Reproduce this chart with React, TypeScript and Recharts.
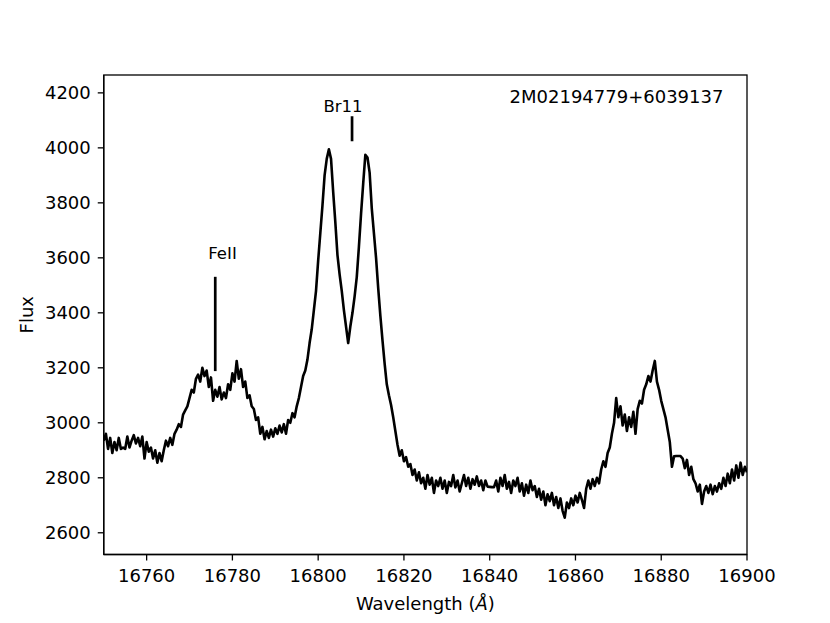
import React from 'react';
import { LineChart, Line, XAxis, YAxis, ReferenceLine, ReferenceDot } from 'recharts';

const FONT = '"DejaVu Sans", "Liberation Sans", sans-serif';

// Wavelength grid (Angstrom): start and sampling step
const WAVE_START = 16750;
const WAVE_STEP = 0.5;

// Flux values, one per 0.5 A from 16750 to 16900
const FLUX = [
  2935, 2960, 2905, 2945, 2890, 2930, 2900, 2945, 2905, 2910,
  2905, 2950, 2910, 2935, 2955, 2925, 2945, 2915, 2950, 2870,
  2930, 2895, 2910, 2870, 2900, 2855, 2890, 2860, 2900, 2935,
  2915, 2945, 2920, 2960, 2975, 2995, 2985, 3030, 3045, 3060,
  3090, 3120, 3110, 3160, 3175, 3150, 3200, 3170, 3190, 3130,
  3165, 3080, 3120, 3095, 3130, 3085, 3110, 3090, 3140, 3120,
  3180, 3150, 3225, 3160, 3195, 3130, 3150, 3090, 3100, 3060,
  3050, 3010, 3020, 2960, 2985, 2940, 2970, 2945, 2975, 2950,
  2980, 2960, 2990, 2965, 2995, 2960, 3010, 3000, 3035, 3020,
  3060, 3090, 3130, 3170, 3190, 3230, 3290, 3340, 3410, 3480,
  3590, 3690, 3790, 3900, 3960, 3995, 3960, 3840, 3730, 3610,
  3540, 3480, 3410, 3350, 3290, 3350, 3400, 3460, 3530, 3640,
  3760, 3870, 3975, 3965, 3910, 3780, 3690, 3600, 3490, 3390,
  3300, 3215, 3140, 3100, 3065, 3020, 2970, 2920, 2880, 2900,
  2860, 2875, 2840, 2850, 2810, 2830, 2790, 2820, 2780, 2800,
  2760, 2810, 2775, 2800, 2745, 2790, 2770, 2800, 2760, 2790,
  2745, 2785, 2770, 2810, 2765, 2790, 2750, 2780, 2810, 2770,
  2800, 2760, 2795, 2775, 2805, 2770, 2790, 2755, 2790, 2768,
  2767, 2766, 2766, 2790, 2750, 2800, 2770, 2810, 2760, 2785,
  2745, 2790, 2770, 2800, 2750, 2780, 2735, 2775, 2745, 2790,
  2755, 2770, 2730, 2760, 2720, 2750, 2700, 2740, 2715, 2745,
  2700, 2730, 2690, 2725, 2680, 2655, 2710, 2690, 2725, 2700,
  2735, 2710, 2745, 2720, 2690, 2760, 2790, 2760, 2795, 2770,
  2800, 2780, 2830, 2860, 2840, 2890, 2910, 2960, 3000, 3090,
  3020, 3060, 2990, 3030, 2970, 3020, 2985, 3040, 2960, 3050,
  3080, 3070, 3120, 3140, 3170, 3150, 3190, 3225, 3150, 3120,
  3080, 3050, 3020, 2975, 2930, 2840, 2878, 2879, 2879, 2879,
  2870, 2835, 2865, 2810, 2840, 2795, 2780, 2750, 2775, 2705,
  2750, 2770, 2745, 2775, 2740, 2770, 2750, 2780, 2760, 2800,
  2770, 2815, 2780, 2830, 2790, 2845, 2800, 2855, 2810, 2840,
  2820,
];

const X_TICKS = [16760, 16780, 16800, 16820, 16840, 16860, 16880, 16900];
const Y_TICKS = [2600, 2800, 3000, 3200, 3400, 3600, 3800, 4000, 4200];
const X_DOMAIN: [number, number] = [16750, 16900];
const Y_DOMAIN: [number, number] = [2521, 4265];

// Line identifications: marker position and label position (data units)
const LINE_IDS = [
  { name: 'FeII', x: 16776, y1: 3188, y2: 3531, labelX: 16777.7, labelY: 3595 },
  { name: 'Br11', x: 16807.9, y1: 4024, y2: 4115, labelX: 16805.8, labelY: 4130 },
];
const STAR_NAME = '2M02194779+6039137';
const STAR_POS = { x: 16894.5, y: 4164 };

const X_LABEL = 'Wavelength';
const Y_LABEL = 'Flux';

const data = FLUX.map((f, i) => ({ wave: WAVE_START + i * WAVE_STEP, flux: f }));

// Plot-area geometry (matches the chart margins + axis sizes below)
const W = 830;
const H = 623;
const M = { top: 75, right: 83, bottom: 8.5, left: 23.75 };
const Y_AXIS_W = 80;
const X_AXIS_H = 60;
const PLOT = {
  x: M.left + Y_AXIS_W,
  y: M.top,
  w: W - M.left - Y_AXIS_W - M.right,
  h: H - M.top - M.bottom - X_AXIS_H,
};

const axisStroke = { stroke: '#000', strokeWidth: 1.3 };
const tickStyle = { fill: '#000', fontSize: 18, fontFamily: FONT };

export default function App() {
  return (
    <div style={{ position: 'absolute', left: 0, top: 0, width: W, height: H, background: '#fff' }}>
      <LineChart width={W} height={H} data={data} margin={M}>
        <XAxis
          dataKey="wave"
          type="number"
          domain={X_DOMAIN}
          ticks={X_TICKS}
          allowDataOverflow
          interval={0}
          height={X_AXIS_H}
          tickSize={6}
          tickMargin={9}
          tick={tickStyle}
          tickLine={axisStroke}
          axisLine={axisStroke}
        />
        <YAxis
          type="number"
          domain={Y_DOMAIN}
          ticks={Y_TICKS}
          allowDataOverflow
          interval={0}
          width={Y_AXIS_W}
          tickSize={6}
          tickMargin={7}
          tick={tickStyle}
          tickLine={axisStroke}
          axisLine={axisStroke}
        />
        <Line
          dataKey="flux"
          type="linear"
          stroke="#000"
          strokeWidth={2.6}
          strokeLinejoin="round"
          dot={false}
          activeDot={false}
          isAnimationActive={false}
        />
        {LINE_IDS.map((m) => (
          <ReferenceLine
            key={m.name + '-line'}
            segment={[{ x: m.x, y: m.y1 }, { x: m.x, y: m.y2 }]}
            stroke="#000"
            strokeWidth={2.7}
            ifOverflow="visible"
          />
        ))}
        {LINE_IDS.map((m) => (
          <ReferenceDot
            key={m.name + '-label'}
            x={m.labelX}
            y={m.labelY}
            r={0}
            ifOverflow="visible"
            shape={(p: any) => (
              <text x={p.cx} y={p.cy} textAnchor="middle" fontSize={16.5} fontFamily={FONT} fill="#000">
                {m.name}
              </text>
            )}
          />
        ))}
        <ReferenceDot
          x={STAR_POS.x}
          y={STAR_POS.y}
          r={0}
          ifOverflow="visible"
          shape={(p: any) => (
            <text x={p.cx} y={p.cy} textAnchor="end" fontSize={18} fontFamily={FONT} fill="#000">
              {STAR_NAME}
            </text>
          )}
        />
      </LineChart>
      <svg width={W} height={H} style={{ position: 'absolute', left: 0, top: 0, pointerEvents: 'none' }}>
        <rect x={PLOT.x} y={PLOT.y} width={PLOT.w} height={PLOT.h} fill="none" stroke="#000" strokeWidth={1.3} />
        <text x={PLOT.x + PLOT.w / 2} y={610} textAnchor="middle" fontSize={18} fontFamily={FONT} fill="#000">
          {X_LABEL} (<tspan fontStyle="italic">Å</tspan>)
        </text>
        <text
          x={33}
          y={PLOT.y + PLOT.h / 2}
          textAnchor="middle"
          fontSize={18}
          fontFamily={FONT}
          fill="#000"
          transform={`rotate(-90 33 ${PLOT.y + PLOT.h / 2})`}
        >
          {Y_LABEL}
        </text>
      </svg>
    </div>
  );
}
